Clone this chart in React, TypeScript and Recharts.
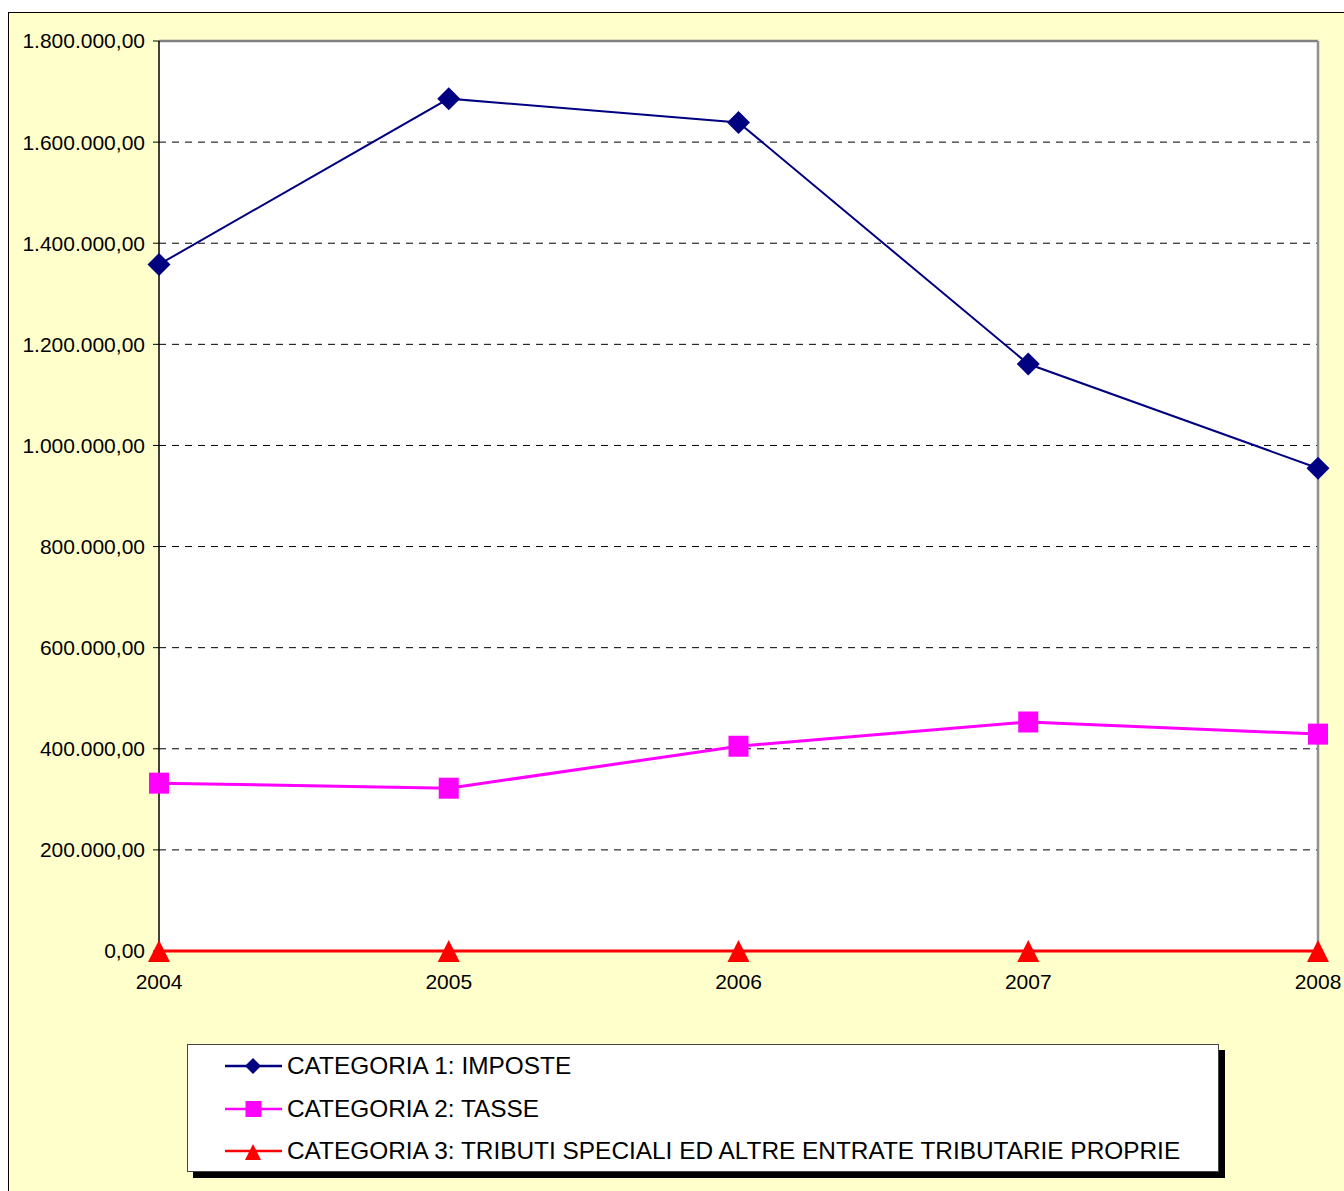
import React from 'react';
import { LineChart, Line, XAxis, YAxis, CartesianGrid, ReferenceLine } from 'recharts';

// values
const YEARS = ['2004', '2005', '2006', '2007', '2008'];
const IMPOSTE = [1358000, 1686000, 1639000, 1161000, 955000];
const TASSE = [332000, 322000, 405000, 453000, 429000];
const TRIBUTI_SPECIALI = [0, 0, 0, 0, 0];
const Y_TICKS = [0, 200000, 400000, 600000, 800000, 1000000, 1200000, 1400000, 1600000, 1800000];

const SERIES_NAMES = [
  'CATEGORIA 1: IMPOSTE',
  'CATEGORIA 2: TASSE',
  'CATEGORIA 3: TRIBUTI SPECIALI ED ALTRE ENTRATE TRIBUTARIE PROPRIE',
];

const data = YEARS.map((year, i) => ({
  year,
  imposte: IMPOSTE[i],
  tasse: TASSE[i],
  tributi: TRIBUTI_SPECIALI[i],
}));

const FONT = '"Liberation Sans", Arial, sans-serif';

// 1800000 -> "1.800.000,00"
const fmt = (v: number) => {
  const [int, dec] = v.toFixed(2).split('.');
  return int.replace(/\B(?=(\d{3})+(?!\d))/g, '.') + ',' + dec;
};

const diamond = (cx: number, cy: number, r: number) =>
  `M${cx},${cy - r}L${cx + r},${cy}L${cx},${cy + r}L${cx - r},${cy}Z`;
const triangle = (cx: number, cy: number, r: number) =>
  `M${cx},${cy - r}L${cx + r},${cy + r}L${cx - r},${cy + r}Z`;

const DiamondDot = (props: any) => (
  <path key={`d-${props.index}`} d={diamond(props.cx, props.cy, 11.5)} fill="#000080" />
);
const SquareDot = (props: any) => (
  <rect key={`s-${props.index}`} x={props.cx - 10} y={props.cy - 10.5} width={20} height={21} fill="#FF00FF" />
);
const TriangleDot = (props: any) => (
  <path key={`t-${props.index}`} d={triangle(props.cx, props.cy, 11)} fill="#FF0000" />
);

const legendItems = [
  { name: SERIES_NAMES[0], color: '#000080', shape: 'diamond' },
  { name: SERIES_NAMES[1], color: '#FF00FF', shape: 'square' },
  { name: SERIES_NAMES[2], color: '#FF0000', shape: 'triangle' },
];

const LegendIcon = ({ color, shape }: { color: string; shape: string }) => (
  <svg width={58} height={20} style={{ display: 'block' }}>
    <line x1={0} y1={10} x2={57} y2={10} stroke={color} strokeWidth={2.5} />
    {shape === 'diamond' && <path d={diamond(28, 10, 8)} fill={color} />}
    {shape === 'square' && <rect x={20.5} y={2} width={16} height={16} fill={color} />}
    {shape === 'triangle' && <path d={triangle(28, 11, 8)} fill={color} />}
  </svg>
);

const App: React.FC = () => {
  return (
    <div style={{ position: 'fixed', left: 0, top: 0, width: 1344, height: 1191, overflow: 'hidden', background: '#fff' }}>
      <div
        style={{
          position: 'absolute',
          left: 8,
          top: 12,
          width: 1340,
          height: 1185,
          background: '#FFFFCC',
          borderTop: '1.5px solid #000',
          borderLeft: '1.5px solid #000',
        }}
      />
      <div style={{ position: 'absolute', left: 0, top: 0 }}>
        <LineChart width={1344} height={1191} data={data} margin={{ top: 41, right: 26, left: 0, bottom: 200 }}>
          <CartesianGrid vertical={false} fill="#FFFFFF" stroke="#000" strokeDasharray="7 6" />
          <XAxis
            dataKey="year"
            height={40}
            axisLine={false}
            tickLine={false}
            tickSize={0}
            tickMargin={23}
            tick={{ fill: '#000', fontSize: 21, fontFamily: FONT }}
          />
          <YAxis
            width={159}
            domain={[0, 1800000]}
            ticks={Y_TICKS}
            tickFormatter={fmt}
            axisLine={{ stroke: '#000', strokeWidth: 1.5 }}
            tickLine={{ stroke: '#000' }}
            tickSize={6}
            tickMargin={8}
            tick={{ fill: '#000', fontSize: 21, fontFamily: FONT }}
          />
          <ReferenceLine y={1800000} stroke="#808080" strokeWidth={2.5} />
          <ReferenceLine x="2008" stroke="#909090" strokeWidth={2.5} />
          <Line
            dataKey="imposte"
            name={SERIES_NAMES[0]}
            stroke="#000080"
            strokeWidth={2}
            dot={DiamondDot}
            activeDot={false}
            isAnimationActive={false}
          />
          <Line
            dataKey="tasse"
            name={SERIES_NAMES[1]}
            stroke="#FF00FF"
            strokeWidth={3}
            dot={SquareDot}
            activeDot={false}
            isAnimationActive={false}
          />
          <Line
            dataKey="tributi"
            name={SERIES_NAMES[2]}
            stroke="#FF0000"
            strokeWidth={3}
            dot={TriangleDot}
            activeDot={false}
            isAnimationActive={false}
          />
        </LineChart>
      </div>
      <div
        style={{
          position: 'absolute',
          left: 187,
          top: 1044,
          width: 1032,
          height: 128,
          background: '#fff',
          border: '1px solid #444',
          boxShadow: '6px 6px 0 #000',
          fontFamily: FONT,
          fontSize: 24.4,
          color: '#000',
          boxSizing: 'border-box',
        }}
      >
        {legendItems.map((item, i) => (
          <div
            key={item.name}
            style={{
              position: 'absolute',
              left: 37,
              top: 6 + i * 42.5,
              height: 30,
              display: 'flex',
              alignItems: 'center',
              whiteSpace: 'nowrap',
            }}
          >
            <LegendIcon color={item.color} shape={item.shape} />
            <span style={{ marginLeft: 4 }}>{item.name}</span>
          </div>
        ))}
      </div>
    </div>
  );
};

export default App;
